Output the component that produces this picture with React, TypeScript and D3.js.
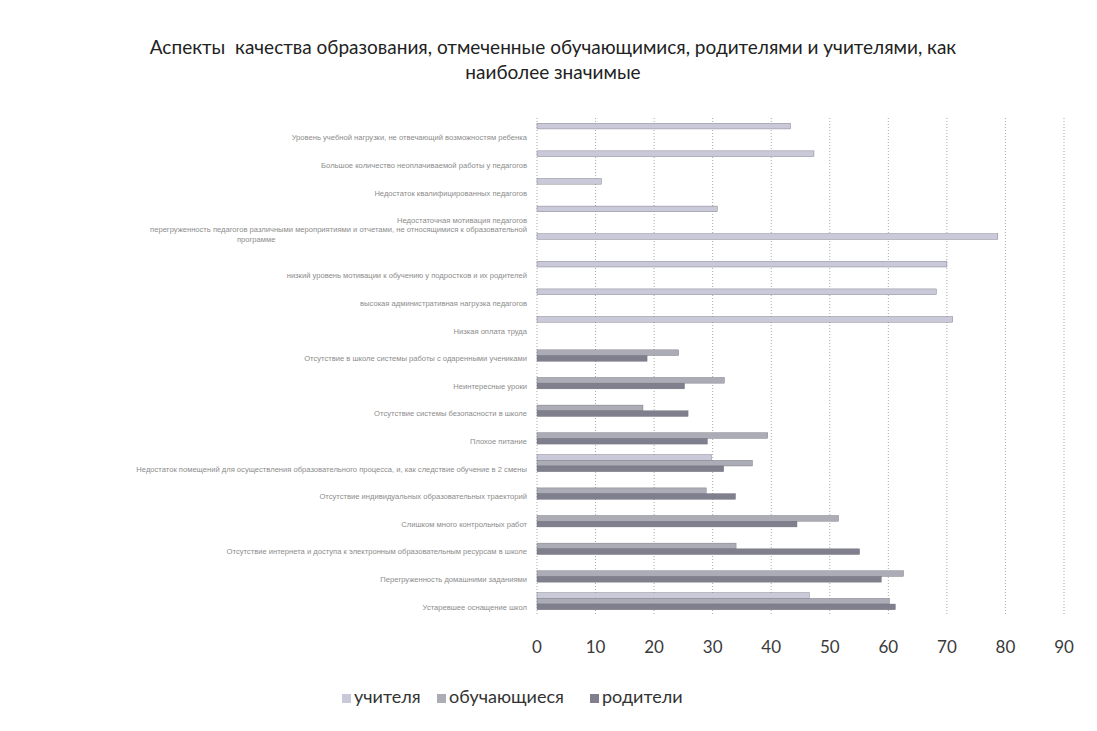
import * as d3 from "d3";
import { useEffect } from "react";

const categories = [
    "Уровень учебной нагрузки, не отвечающий возможностям ребенка",
    "Большое количество неоплачиваемой работы у педагогов",
    "Недостаток квалифицированных педагогов",
    "Недостаточная мотивация педагогов",
    "перегруженность педагогов различными мероприятиями и отчетами, не относящимися к образовательной|программе",
    "низкий уровень мотивации к обучению у подростков и их родителей",
    "высокая административная нагрузка педагогов",
    "Низкая оплата труда",
    "Отсутствие в школе системы работы с одаренными учениками",
    "Неинтересные уроки",
    "Отсутствие системы безопасности в школе",
    "Плохое питание",
    "Недостаток помещений для осуществления образовательного процесса, и, как следствие обучение в 2 смены",
    "Отсутствие индивидуальных образовательных траекторий",
    "Слишком много контрольных работ",
    "Отсутствие интернета и доступа к электронным образовательным ресурсам в школе",
    "Перегруженность домашними заданиями",
    "Устаревшее оснащение школ",
];

const seriesNames = ["учителя", "обучающиеся", "родители"];

// null = no answer from that group
const teachers = [43.3, 47.3, 11, 30.8, 78.7, 70, 68.2, 71, null, null, null, null, 29.8, null, null, null, null, 46.5];
const students = [null, null, null, null, null, null, null, null, 24.2, 32, 18.1, 39.4, 36.8, 28.9, 51.5, 34, 62.6, 60.2];
const parents = [null, null, null, null, null, null, null, null, 18.8, 25.2, 25.8, 29.1, 31.9, 33.9, 44.4, 55.1, 58.8, 61.2];

const xTicks = [0, 10, 20, 30, 40, 50, 60, 70, 80, 90];

const colors = ["#c9c9d9", "#acacb6", "#7f7f8e"];

const width = 1097;
const height = 731;
const marginLeft = 537;
const plotRight = 1064;
const plotTop = 118;
const plotBottom = 615;

const App = () => {
    useEffect(() => {
        document.body.style.margin = "0";
    }, []);

    const x = d3.scaleLinear().domain([0, 90]).range([marginLeft, plotRight]);
    const y = d3.scaleBand().domain(categories).range([plotTop, plotBottom]).paddingInner(0.38).paddingOuter(0.19);
    const sub = d3.scaleBand().domain(seriesNames).range([0, y.bandwidth()]);
    const values = [teachers, students, parents];

    const labelFont = "'Liberation Sans', Arial, sans-serif";
    const mainFont = "Lato, 'Open Sans', sans-serif";

    return (
        <svg width={width} height={height} style={{ display: "block", background: "#fff" }}>
            <text x={553} y={54} textAnchor="middle" fontFamily={mainFont} fontSize={19} fill="#222" style={{ whiteSpace: "pre" }}>
                Аспекты  качества образования, отмеченные обучающимися, родителями и учителями, как
            </text>
            <text x={553} y={79} textAnchor="middle" fontFamily={mainFont} fontSize={19} fill="#222">
                наиболее значимые
            </text>

            <g>
                {xTicks.map(t => (
                    <line key={t} x1={x(t)} x2={x(t)} y1={plotTop} y2={plotBottom} stroke="#a9a9a9" strokeWidth={1} strokeDasharray="1,2" />
                ))}
            </g>

            <g>
                {xTicks.map(t => (
                    <text key={t} x={x(t)} y={653} textAnchor="middle" fontFamily={mainFont} fontSize={17} fill="#3a3a3a">{t}</text>
                ))}
            </g>

            <g>
                {categories.map(c => {
                    const cy = (y(c) ?? 0) + y.bandwidth() / 2;
                    const parts = c.split("|");
                    if (parts.length === 1) {
                        return (
                            <text key={c} x={marginLeft - 10} y={cy + 8.5} textAnchor="end" fontFamily={labelFont} fontSize={7.6} fill="#8c8c8c">{c}</text>
                        );
                    }
                    return (
                        <g key={c}>
                            <text x={marginLeft - 10} y={cy - 10} textAnchor="end" fontFamily={labelFont} fontSize={7.6} fill="#8c8c8c">{parts[0]}</text>
                            <text x={marginLeft - 300} y={cy} textAnchor="start" fontFamily={labelFont} fontSize={7.6} fill="#8c8c8c">{parts[1]}</text>
                        </g>
                    );
                })}
            </g>

            <g>
                {values.map((vals, si) => (
                    <g key={seriesNames[si]}>
                        {vals.map((v, i) => v == null ? null : (
                            <rect
                                key={i}
                                x={x(0)}
                                y={(y(categories[i]) ?? 0) + (sub(seriesNames[si]) ?? 0)}
                                width={x(v) - x(0)}
                                height={sub.bandwidth()}
                                fill={colors[si]}
                                stroke="#6f6f7a"
                                strokeWidth={0.4}
                            />
                        ))}
                    </g>
                ))}
            </g>

            <g>
                {seriesNames.map((s, i) => {
                    const lx = [342, 437, 590][i];
                    return (
                        <g key={s}>
                            <rect x={lx} y={694} width={9} height={9} fill={colors[i]} />
                            <text x={lx + 12} y={703} fontFamily={mainFont} fontSize={18} fill="#333">{s}</text>
                        </g>
                    );
                })}
            </g>
        </svg>
    );
};

export default App;
